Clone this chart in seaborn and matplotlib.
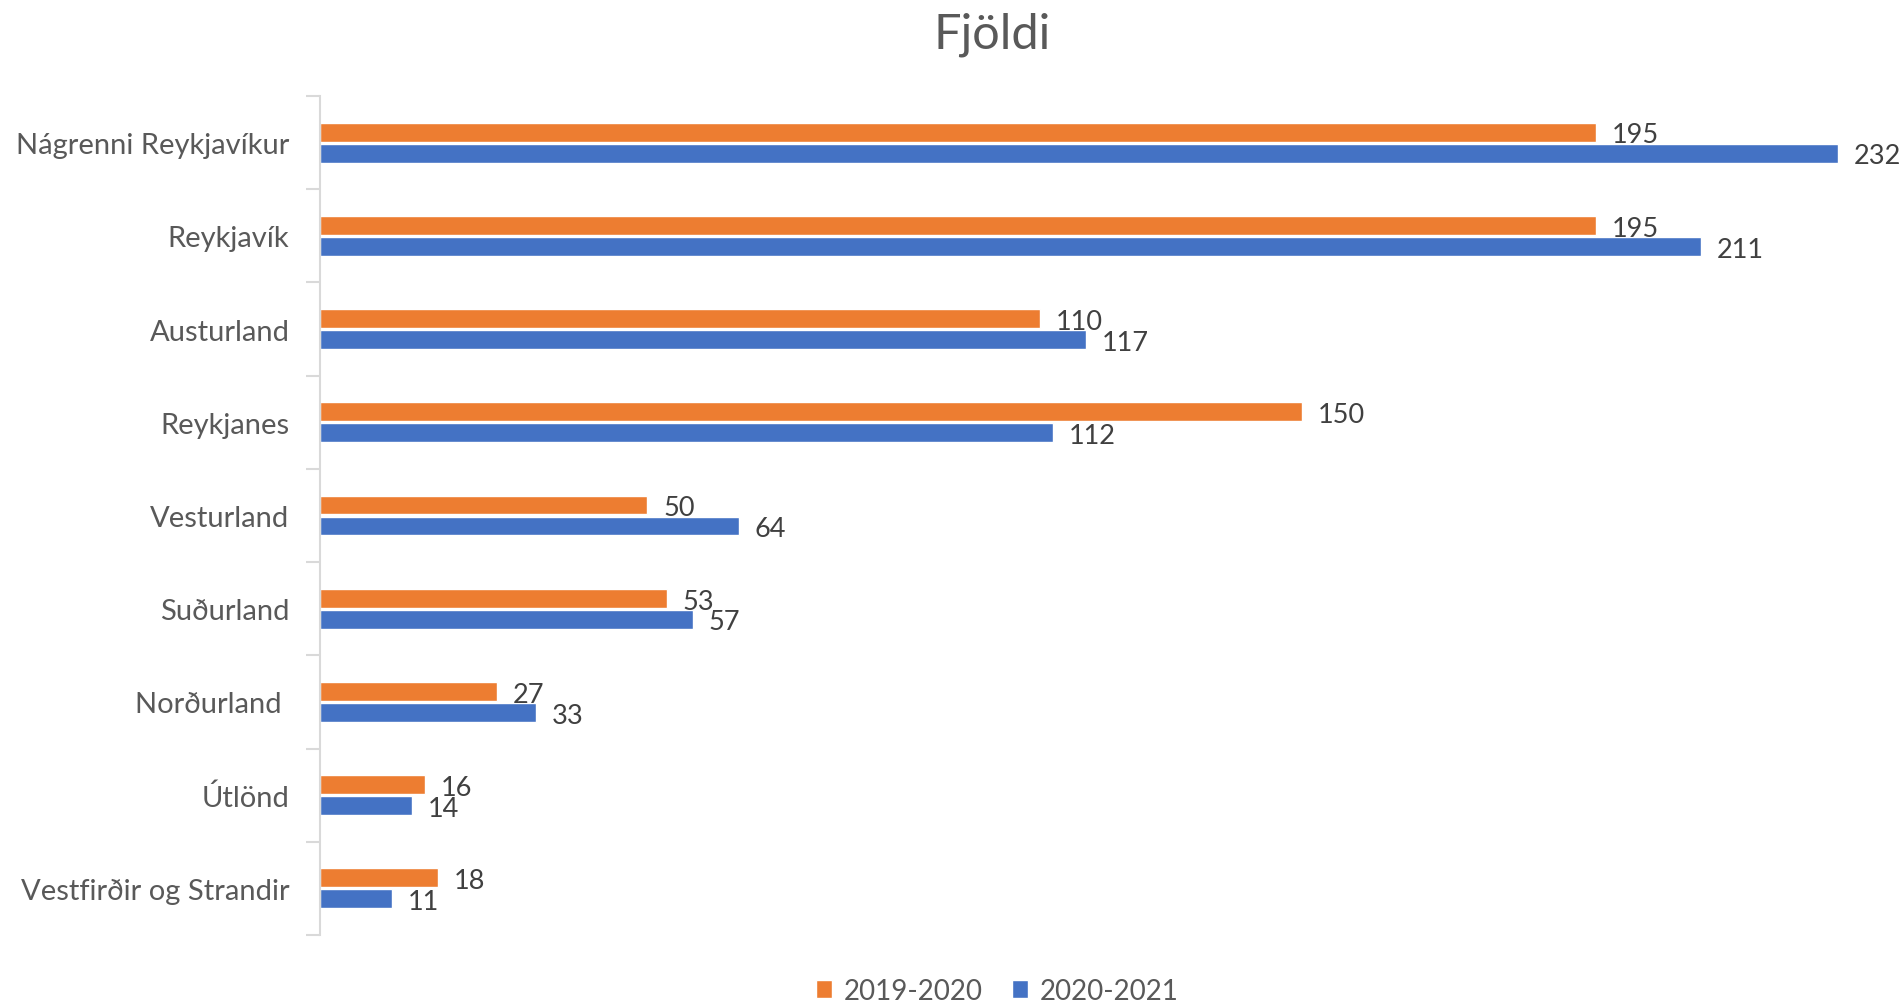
import pandas as pd
import matplotlib.pyplot as plt
import seaborn as sns

## Gögn
svaedi = ["Nágrenni Reykjavíkur", "Reykjavík", "Austurland", "Reykjanes", "Vesturland",
          "Suðurland", "Norðurland ", "Útlönd", "Vestfirðir og Strandir"]
fjoldi_2019 = [195, 195, 110, 150, 50, 53, 27, 16, 18]
fjoldi_2020 = [232, 211, 117, 112, 64, 57, 33, 14, 11]
timabil = ["2019-2020", "2020-2021"]
litir = ["#ED7D31", "#4472C4"]

df = pd.DataFrame({
    "svaedi": svaedi * 2,
    "fjoldi": fjoldi_2019 + fjoldi_2020,
    "timabil": [timabil[0]] * len(svaedi) + [timabil[1]] * len(svaedi),
})

sns.set_style("white")
plt.rcParams["font.family"] = ["Lato", "DejaVu Sans"]

fig = plt.figure(figsize=(19.03, 10.04), dpi=100)
ax = fig.add_axes([320 / 1903, 1 - 936 / 1004, (1880 - 320) / 1903, (936 - 97) / 1004])

sns.barplot(data=df, x="fjoldi", y="svaedi", hue="timabil", orient="h",
            palette=litir, saturation=1, width=0.45, gap=0.1, ax=ax, legend=True)

# gildi við enda súlna
for cont in ax.containers:
    merki = ax.bar_label(cont, fontsize=19.5, color="#404040")
    for m in merki:
        m.xyann = (11.5, -2)

ax.set_xlim(0, 238.4)
ax.set_ylim(8.5, -0.5)
ax.set_xlabel("")
ax.set_ylabel("")
ax.set_xticks([])

# lóðréttur ás með merkjum á milli flokka
for s in ["top", "right", "bottom"]:
    ax.spines[s].set_visible(False)
ax.spines["left"].set_color("#d9d9d9")
ax.spines["left"].set_linewidth(1.5)
ax.set_yticks([i - 0.5 for i in range(len(svaedi) + 1)], minor=True)
ax.tick_params(axis="y", which="minor", length=10, width=1.5, color="#d9d9d9", left=True)
ax.tick_params(axis="y", which="major", length=0, pad=22, labelsize=21, labelcolor="#595959")

handles, labels = ax.get_legend_handles_labels()
ax.get_legend().remove()
fig.legend(handles, labels, loc="center", bbox_to_anchor=(997 / 1903, 1 - 992 / 1004),
           ncol=2, frameon=False, fontsize=20, labelcolor="#595959",
           handlelength=0.6, handleheight=0.6, handletextpad=0.4, columnspacing=1.05)

fig.text(992 / 1903, 1 - 35 / 1004, "Fjöldi", ha="center", va="center",
         fontsize=35, color="#595959")

fig.savefig("out.png", dpi=100)
